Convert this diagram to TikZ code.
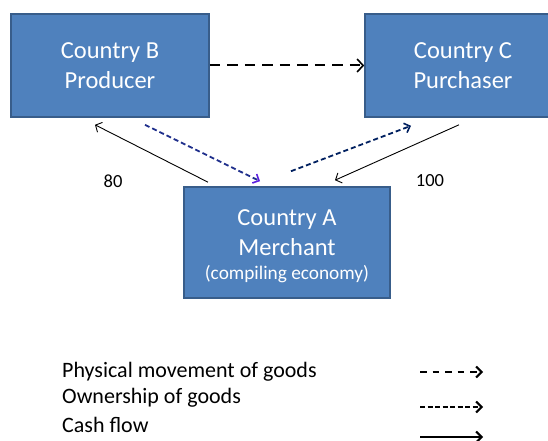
\documentclass[tikz,border=0pt]{standalone}
\usepackage{fontspec}
\setmainfont{Carlito}
\usetikzlibrary{arrows.meta}
\definecolor{boxfill}{HTML}{4F81BD}
\definecolor{boxborder}{HTML}{385D8A}
\definecolor{navy}{HTML}{002060}
\definecolor{owncol}{HTML}{1F2F8C}
\definecolor{tipviolet}{HTML}{5B1FE0}
\tikzset{
  box/.style={draw=boxborder, fill=boxfill, line width=1.6pt, text=white,
    font=\fontsize{24.5}{30}\selectfont, align=center, inner sep=0pt},
  boxline/.style={text=white, inner sep=0pt, anchor=base, font=\fontsize{24.5}{30}\selectfont},
  boxsmall/.style={text=white, inner sep=0pt, anchor=base, font=\fontsize{19.3}{23}\selectfont},
  phys/.style={draw=black, line width=2pt, dash pattern=on 10.5pt off 7pt,
    -{Straight Barb[length=6pt,width=13pt,line width=1.6pt]}},
  own/.style={draw=navy, line width=1.8pt, dash pattern=on 5pt off 3pt,
    -{Straight Barb[length=5pt,width=10pt,line width=1.6pt]}},
  cash/.style={draw=black, line width=0.9pt,
    -{Straight Barb[length=5pt,width=11pt,line width=0.9pt]}},
  num/.style={font=\fontsize{18.5}{22}\selectfont, inner sep=0pt},
  legtext/.style={font=\fontsize{22}{26}\selectfont, anchor=west, inner sep=0pt},
  legtip/.style={-{Straight Barb[length=5.5pt,width=11pt,line width=2pt]}},
  legphys/.style={draw=black, line width=2.2pt, dash pattern=on 6.5pt off 6pt, legtip},
  legown/.style={draw=black, line width=2pt, dash pattern=on 5pt off 2.5pt, legtip},
  legcash/.style={draw=black, line width=2.4pt, legtip},
}
\begin{document}
\begin{tikzpicture}[x=1pt,y=-1pt]
\useasboundingbox (0,0) rectangle (548,441);
\fill[white] (0,0) rectangle (548,441);
\clip (0,0) rectangle (548,441);
\node[box, minimum width=198pt, minimum height=103pt] (B) at (110,65.5) {Country B\\Producer};
\node[box, minimum width=196pt, minimum height=103pt] (C) at (463,65.5) {Country C\\Purchaser};
\node[box, minimum width=206pt, minimum height=111pt] (A) at (287,242.5) {};
\node[boxline] (At1) at (287,225) {Country A};
\node[boxline] (At2) at (287,255) {Merchant};
\node[boxsmall] (At3) at (287,279) {(compiling economy)};
% connectors
\draw[phys] (B.east) -- (C.west);
\draw[own, draw=owncol, -{Straight Barb[length=5pt,width=10pt,line width=1.6pt,color=tipviolet]}]
  ([shift={(35,7)}]B.south) -- ([shift={(-27,-5)}]A.north);
\draw[own] ([shift={(4,-15)}]A.north) -- ([shift={(-52,8)}]C.south);
\draw[cash] ([shift={(-79,-4)}]A.north) -- ([shift={(-15,7)}]B.south);
\draw[cash] ([shift={(-4,7)}]C.south) -- ([shift={(48,-6)}]A.north);
\node[num] (n80) at (113,181) {80};
\node[num] (n100) at (430,181) {100};
% legend
\node[legtext] (t1) at (62,372) {Physical movement of goods};
\node[legtext] (t2) at (62,398) {Ownership of goods};
\node[legtext] (t3) at (62,425) {Cash flow};
\coordinate (l1s) at (420,372); \coordinate (l1e) at (483,372);
\coordinate (l2s) at (420,407); \coordinate (l2e) at (483,407);
\coordinate (l3s) at (420,437); \coordinate (l3e) at (483,437);
\draw[legphys] (l1s) -- (l1e);
\draw[legown] (l2s) -- (l2e);
\draw[legcash] (l3s) -- (l3e);
\end{tikzpicture}
\end{document}
